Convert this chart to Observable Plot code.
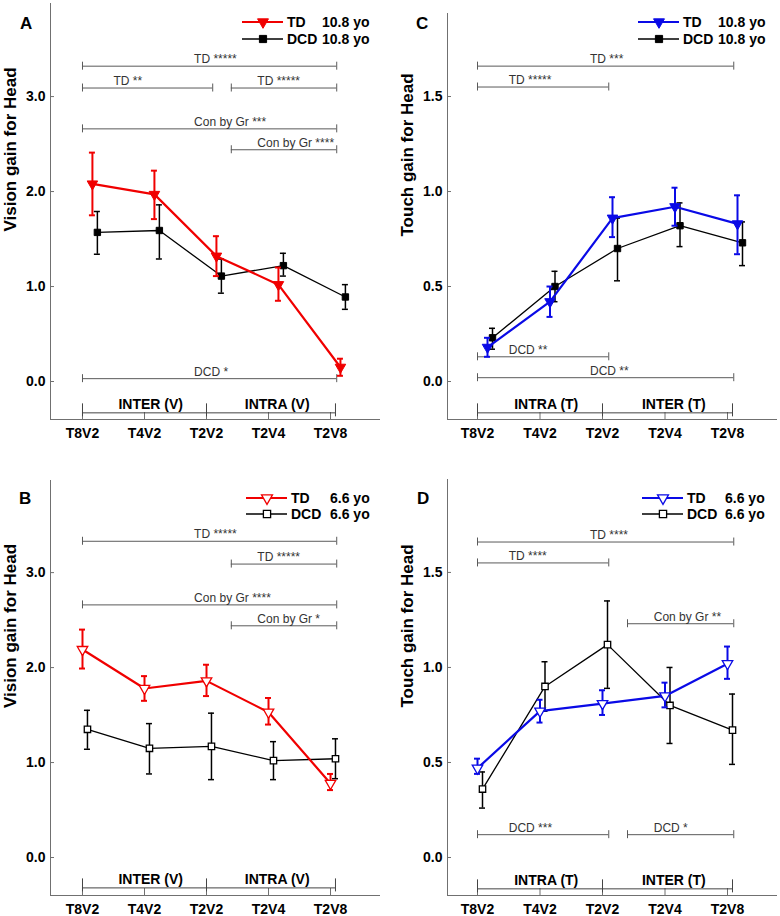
<!DOCTYPE html>
<html><head><meta charset="utf-8">
<script src="https://cdn.jsdelivr.net/npm/d3@7"></script>
<script src="https://cdn.jsdelivr.net/npm/@observablehq/plot@0.6"></script>
<style>
body{margin:0;background:#fff;font-family:"Liberation Sans",Arial,sans-serif}
#root{position:relative;width:780px;height:916px;overflow:hidden;background:#fff}
.panel{position:absolute}
.letter{position:absolute;font-weight:bold;font-size:17px;line-height:17px;color:#000}
.lrow{position:absolute;height:16px;font-weight:bold;font-size:14px;line-height:16px;color:#000;white-space:nowrap}
.lrow svg{position:absolute;left:0;top:0}
.lrow span{position:absolute;top:0}
</style></head><body><div id="root"></div>
<script>
const categories = ["T8V2", "T4V2", "T2V2", "T2V4", "T2V8"];

// Panel A: Vision gain for Head, 10.8 yo
const visionOlderTD     = [2.08, 1.97, 1.32, 1.02, 0.15];
const visionOlderTDLow  = [1.75, 1.71, 1.11, 0.85, 0.06];
const visionOlderTDHigh = [2.41, 2.22, 1.53, 1.20, 0.24];
const visionOlderDCD     = [1.57, 1.59, 1.11, 1.22, 0.89];
const visionOlderDCDLow  = [1.34, 1.29, 0.93, 1.11, 0.76];
const visionOlderDCDHigh = [1.79, 1.86, 1.29, 1.35, 1.02];

// Panel B: Vision gain for Head, 6.6 yo
const visionYoungerTD     = [2.19, 1.78, 1.86, 1.53, 0.78];
const visionYoungerTDLow  = [1.99, 1.65, 1.70, 1.40, 0.71];
const visionYoungerTDHigh = [2.40, 1.91, 2.03, 1.68, 0.88];
const visionYoungerDCD     = [1.35, 1.15, 1.17, 1.02, 1.04];
const visionYoungerDCDLow  = [1.14, 0.88, 0.82, 0.82, 0.83];
const visionYoungerDCDHigh = [1.55, 1.41, 1.52, 1.22, 1.25];

// Panel C: Touch gain for Head, 10.8 yo
const touchOlderTD     = [0.18, 0.42, 0.86, 0.92, 0.83];
const touchOlderTDLow  = [0.13, 0.34, 0.76, 0.82, 0.67];
const touchOlderTDHigh = [0.23, 0.50, 0.97, 1.02, 0.98];
const touchOlderDCD     = [0.23, 0.50, 0.70, 0.82, 0.73];
const touchOlderDCDLow  = [0.17, 0.42, 0.53, 0.71, 0.61];
const touchOlderDCDHigh = [0.28, 0.58, 0.86, 0.94, 0.84];

// Panel D: Touch gain for Head, 6.6 yo
const touchYoungerTD     = [0.47, 0.77, 0.81, 0.85, 1.02];
const touchYoungerTDLow  = [0.44, 0.71, 0.75, 0.79, 0.94];
const touchYoungerTDHigh = [0.52, 0.83, 0.88, 0.92, 1.11];
const touchYoungerDCD     = [0.36, 0.90, 1.12, 0.80, 0.67];
const touchYoungerDCDLow  = [0.26, 0.77, 0.89, 0.60, 0.49];
const touchYoungerDCDHigh = [0.45, 1.03, 1.35, 1.00, 0.86];

const yTicksVision = [0, 1, 2, 3];
const yTicksTouch = [0, 0.5, 1, 1.5];

const groupsVision = ["INTER (V)", "INTRA (V)"];
const groupsTouch = ["INTRA (T)", "INTER (T)"];

// significance brackets: [label, from (category index), to, level (gain)]
const bracketsA = [["TD *****", 0, 4.1, 3.32], ["TD **", 0, 2.1, 3.09], ["TD *****", 2.4, 4.1, 3.09],
                   ["Con by Gr ***", 0, 4.1, 2.66], ["Con by Gr ****", 2.4, 4.1, 2.44], ["DCD *", 0, 4.1, 0.03]];
const bracketsB = [["TD *****", 0, 4.1, 3.33], ["TD *****", 2.4, 4.1, 3.09],
                   ["Con by Gr ****", 0, 4.1, 2.66], ["Con by Gr *", 2.4, 4.1, 2.44]];
const bracketsC = [["TD ***", 0, 4.1, 1.66], ["TD *****", 0, 2.1, 1.55],
                   ["DCD **", 0, 2.1, 0.13], ["DCD **", 0, 4.1, 0.02]];
const bracketsD = [["TD ****", 0, 4.1, 1.66], ["TD ****", 0, 2.1, 1.55], ["Con by Gr **", 2.4, 4.1, 1.23],
                   ["DCD ***", 0, 2.1, 0.12], ["DCD *", 2.4, 4.1, 0.12]];

const ageOlder = "10.8 yo";
const ageYounger = "6.6 yo";

const RED = "#f00000";
const BLUE = "#0a0ae6";
const FONT = "'Liberation Sans', Arial, sans-serif";

const sqrt3 = Math.sqrt(3);
const triangleDown = {
  draw(context, size) {
    const y = -Math.sqrt(size / (sqrt3 * 3));
    context.moveTo(0, -y * 2);
    context.lineTo(-sqrt3 * y, y);
    context.lineTo(sqrt3 * y, y);
    context.closePath();
  }
};

function rows(values, low, high, offset) {
  return categories.map((c, i) => ({cat: c, x: i + offset, y: values[i], lo: low[i], hi: high[i]}));
}

function drawPanel(cfg) {
  const {left, top, width, height, mL, mR, mT, mB, xD, yD, yTicks, yLabel, groups, brackets,
         groupLevel, td, dcd, color, open, tdOff, dcdOff} = cfg;
  const pxX = (width - mL - mR) / (xD[1] - xD[0]);
  const pxY = (height - mT - mB) / (yD[1] - yD[0]);
  const fmt = d3.format(".1f");
  const axisColor = "#707070";
  const brColor = "#5a5a5a";
  const idx = categories.map((c, i) => i);
  const capX = 3 / pxX;
  const groupEnd = 4.08;
  const groupStops = [0, 2, groupEnd];
  const ends = brackets.flatMap(b => [{x: b[1], y: b[3]}, {x: b[2], y: b[3]}]);
  const labelStart = b => (b[1] === 0 && b[2] > 3) ? 1.8 : (b[1] > 0 ? b[1] + 0.42 : 0.5);

  const tdRows = rows(td[0], td[1], td[2], tdOff);
  const dcdRows = rows(dcd[0], dcd[1], dcd[2], dcdOff);

  const marks = [
    Plot.ruleX([xD[0]], {stroke: axisColor}),
    Plot.ruleY([yD[0]], {stroke: axisColor}),
    Plot.ruleY(yTicks, {y: d => d, x1: xD[0], x2: xD[0] + 4 / pxX, stroke: axisColor}),
    Plot.text(yTicks, {x: xD[0], y: d => d, text: fmt, textAnchor: "end", dx: -5, fontWeight: "bold", fontSize: 14, fill: "#000"}),
    Plot.ruleX(idx, {x: d => d, y1: yD[0], y2: yD[0] + 7 / pxY, stroke: axisColor}),
    Plot.text(categories, {x: (d, i) => i, y: yD[0], text: d => d, dy: 14, fontWeight: "bold", fontSize: 14, fill: "#000"}),
    Plot.text([yLabel], {frameAnchor: "left", rotate: -90, dx: -40, dy: 20, text: d => d, fontWeight: "bold", fontSize: 17, fill: "#000"}),
    // condition groups
    Plot.ruleY([groupLevel], {y: d => d, x1: 0, x2: groupEnd, stroke: "#444"}),
    Plot.ruleX(groupStops, {x: d => d, y1: groupLevel - 4 / pxY, y2: groupLevel + 9 / pxY, stroke: "#444"}),
    Plot.text(groups, {x: (d, i) => (groupStops[i] + groupStops[i + 1]) / 2 + 0.1, y: groupLevel, text: d => d, dy: -8, fontWeight: "bold", fontSize: 14, fill: "#000"}),
    // significance brackets
    Plot.ruleY(brackets, {y: b => b[3], x1: b => b[1], x2: b => b[2], stroke: brColor}),
    Plot.ruleX(ends, {x: "x", y1: e => e.y - 4 / pxY, y2: e => e.y + 4 / pxY, stroke: brColor}),
    Plot.text(brackets, {x: labelStart, y: b => b[3], text: b => b[0], textAnchor: "start", dy: -7, fontSize: 12, fill: "#333"})
  ];

  const series = [
    {rows: dcdRows, color: "#000", symbol: "square", r: 3.6, lw: 1.3, ew: 1.5},
    {rows: tdRows, color: color, symbol: triangleDown, r: 3.9, lw: 2.2, ew: 2}
  ];
  for (const s of series) {
    marks.push(
      Plot.line(s.rows, {x: "x", y: "y", stroke: s.color, strokeWidth: s.lw}),
      Plot.ruleX(s.rows, {x: "x", y1: "lo", y2: "hi", stroke: s.color, strokeWidth: s.ew}),
      Plot.ruleY(s.rows, {y: "lo", x1: d => d.x - capX, x2: d => d.x + capX, stroke: s.color, strokeWidth: s.ew}),
      Plot.ruleY(s.rows, {y: "hi", x1: d => d.x - capX, x2: d => d.x + capX, stroke: s.color, strokeWidth: s.ew}),
      Plot.dot(s.rows, {x: "x", y: "y", symbol: s.symbol, r: s.r, fill: open ? "#fff" : s.color, stroke: s.color, strokeWidth: open ? 1.3 : 1})
    );
  }

  const svg = Plot.plot({
    width, height, marginLeft: mL, marginRight: mR, marginTop: mT, marginBottom: mB,
    x: {type: "linear", domain: xD, axis: null},
    y: {type: "linear", domain: yD, axis: null},
    style: {fontFamily: FONT, background: "transparent", overflow: "visible"},
    marks
  });
  svg.classList.add("panel");
  svg.style.left = left + "px";
  svg.style.top = top + "px";
  document.getElementById("root").appendChild(svg);
}

function addLetter(text, x, y) {
  const el = document.createElement("div");
  el.className = "letter";
  el.textContent = text;
  el.style.left = x + "px";
  el.style.top = y + "px";
  document.getElementById("root").appendChild(el);
}

function addLegend(x, y, ageX, color, open, age, rowGap) {
  const entries = [
    {name: "TD", color: color, symbol: triangleDown, size: 52, lw: 2.2},
    {name: "DCD", color: "#000", symbol: d3.symbolSquare, size: 52, lw: 1.3}
  ];
  entries.forEach((e, k) => {
    const row = document.createElement("div");
    row.className = "lrow";
    row.style.left = x + "px";
    row.style.top = (y + k * rowGap - 8) + "px";
    const path = d3.symbol(e.symbol, e.size)();
    row.innerHTML =
      `<svg width="42" height="16"><line x1="0" x2="41" y1="8" y2="8" stroke="${e.color}" stroke-width="${e.lw}"/>` +
      `<path transform="translate(21,8)" d="${path}" fill="${open ? "#fff" : e.color}" stroke="${e.color}" stroke-width="${open ? 1.3 : 1}"/></svg>` +
      `<span style="left:45px">${e.name}</span><span style="left:${ageX}px">${age}</span>`;
    document.getElementById("root").appendChild(row);
  });
}

const visionLayoutTop = {left: 0, top: 0, width: 390, height: 460, mL: 50, mR: 10, mT: 3, mB: 41, xD: [-0.516, 4.806]};
const touchLayoutTop = {left: 390, top: 0, width: 390, height: 460, mL: 57, mR: 3, mT: 13, mB: 41, xD: [-0.48, 4.8]};
const visionLayoutBottom = {left: 0, top: 460, width: 390, height: 456, mL: 50, mR: 10, mT: 20, mB: 21, xD: [-0.516, 4.806]};
const touchLayoutBottom = {left: 390, top: 460, width: 390, height: 456, mL: 57, mR: 3, mT: 19, mB: 21, xD: [-0.48, 4.8]};

drawPanel({...visionLayoutTop, yD: [-0.4, 3.98], yTicks: yTicksVision, yLabel: "Vision gain for Head",
  groups: groupsVision, groupLevel: -0.33, brackets: bracketsA, color: RED, open: false, tdOff: 0.16, dcdOff: 0.24,
  td: [visionOlderTD, visionOlderTDLow, visionOlderTDHigh], dcd: [visionOlderDCD, visionOlderDCDLow, visionOlderDCDHigh]});
drawPanel({...touchLayoutTop, yD: [-0.2, 1.937], yTicks: yTicksTouch, yLabel: "Touch gain for Head",
  groups: groupsTouch, groupLevel: -0.165, brackets: bracketsC, color: BLUE, open: false, tdOff: 0.16, dcdOff: 0.24,
  td: [touchOlderTD, touchOlderTDLow, touchOlderTDHigh], dcd: [touchOlderDCD, touchOlderDCDLow, touchOlderDCDHigh]});
drawPanel({...visionLayoutBottom, yD: [-0.4, 3.97], yTicks: yTicksVision, yLabel: "Vision gain for Head",
  groups: groupsVision, groupLevel: -0.32, brackets: bracketsB, color: RED, open: true, tdOff: 0, dcdOff: 0.08,
  td: [visionYoungerTD, visionYoungerTDLow, visionYoungerTDHigh], dcd: [visionYoungerDCD, visionYoungerDCDLow, visionYoungerDCDHigh]});
drawPanel({...touchLayoutBottom, yD: [-0.2, 1.989], yTicks: yTicksTouch, yLabel: "Touch gain for Head",
  groups: groupsTouch, groupLevel: -0.165, brackets: bracketsD, color: BLUE, open: true, tdOff: 0, dcdOff: 0.08,
  td: [touchYoungerTD, touchYoungerTDLow, touchYoungerTDHigh], dcd: [touchYoungerDCD, touchYoungerDCDLow, touchYoungerDCDHigh]});

addLetter("A", 20, 15);
addLetter("C", 416, 15);
addLetter("B", 19, 490);
addLetter("D", 417, 490);

addLegend(242, 22, 80, RED, false, ageOlder, 17);
addLegend(638, 22, 80, BLUE, false, ageOlder, 17);
addLegend(246, 498, 84, RED, true, ageYounger, 16);
addLegend(642, 498, 83, BLUE, true, ageYounger, 16);
</script></body></html>
